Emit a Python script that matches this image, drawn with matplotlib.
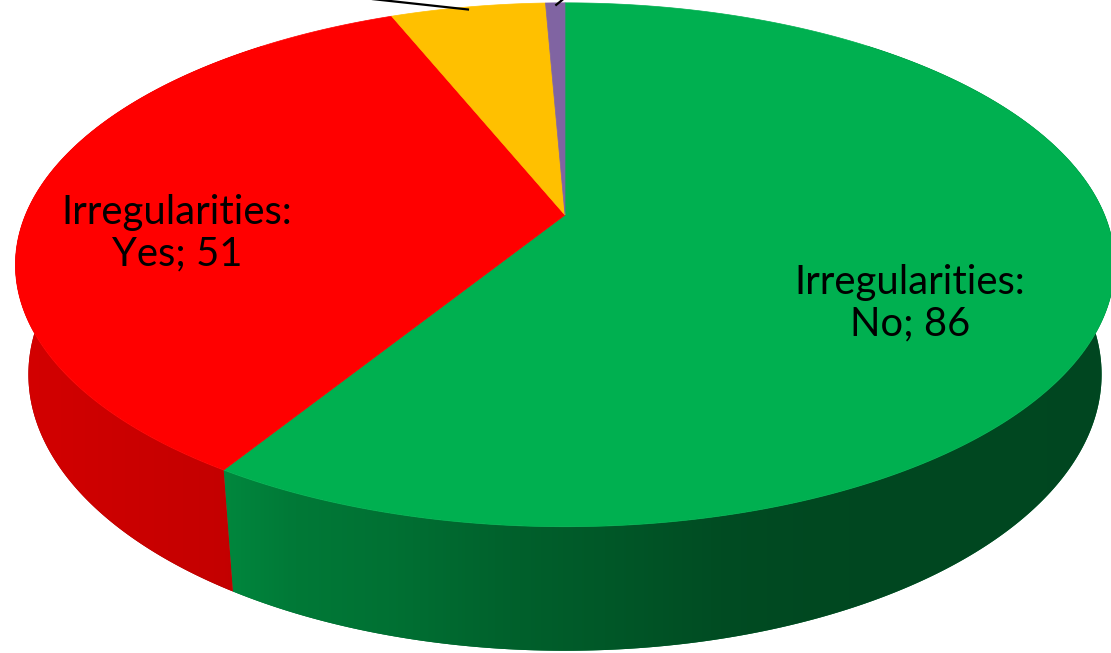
import numpy as np
import matplotlib
matplotlib.use("Agg")
import matplotlib.pyplot as plt
from matplotlib.patches import Polygon
from matplotlib.colors import to_rgb

# data
categories = ["Irregularities: No", "Irregularities: Yes", "Irregularities: Other", "Irregularities: Unknown"]
values = [86, 51, 8, 1]
colors = ["#00b050", "#ff0000", "#ffc000", "#8064a2"]
show_label = [True, True, False, False]

W, H = 1111, 653

# camera / projection of the 3D pie (unit radius disk)
elev = np.radians(27.9)
c, s = np.cos(elev), np.sin(elev)
D = 4.65
k = 2509.0
X0, Y0 = 565.0, 215.0
thick = 0.232


def proj(x, y, z):
    ry = y + D * c
    rz = z - D * s
    depth = ry * c - rz * s
    up = ry * s + rz * c
    return X0 + k * x / depth, Y0 - k * up / depth


def rim(theta, z=0.0, r=1.0):
    # theta clockwise from 12 o'clock (far side)
    return proj(r * np.sin(theta), r * np.cos(theta), z)


def side_factor(theta):
    nx = np.sin(theta)
    return np.interp(nx, [-1, -0.53, -0.42, -0.26, -0.08, 0.06, 0.24, 0.38, 1],
                     [0.84, 0.77, 0.69, 0.64, 0.55, 0.50, 0.43, 0.41, 0.40])


fig = plt.figure(figsize=(W / 100, H / 100), dpi=100)
ax = fig.add_axes([0, 0, 1, 1])
ax.set_xlim(0, W)
ax.set_ylim(H, 0)
ax.axis("off")

total = float(sum(values))
bounds = np.concatenate([[0], np.cumsum(values)]) / total * 2 * np.pi

# map screen column -> angle on the front rim, for shading of the side wall
front = np.linspace(np.radians(104), np.radians(256), 800)
front_x = np.array([rim(t)[0] for t in front])
cols = np.arange(W) + 0.5
col_theta = np.interp(cols, front_x[::-1], front[::-1])

# side walls (back parts end up hidden under the top faces)
lo, hi = np.radians(40), np.radians(320)
for i, v in enumerate(values):
    t0, t1 = max(bounds[i], lo), min(bounds[i + 1], hi)
    if t1 <= t0:
        continue
    ts = np.linspace(t0, t1, 300)
    top = [rim(t) for t in ts]
    bot = [rim(t, -thick) for t in ts[::-1]]
    base = np.array(to_rgb(colors[i]))
    # solid base under the gradient so no gap can show through
    poly = Polygon(top + bot, closed=True, facecolor=base * 0.6, edgecolor="none", zorder=0.5)
    ax.add_patch(poly)
    grad = np.clip(base[None, :] * side_factor(col_theta)[:, None], 0, 1)
    im = ax.imshow(grad[None, :, :], extent=(0, W, H, 0), aspect="auto",
                   interpolation="bilinear", zorder=1)
    im.set_clip_path(poly)

# top faces
for i, v in enumerate(values):
    ts = np.linspace(bounds[i], bounds[i + 1], 300)
    pts = [proj(0, 0, 0)] + [rim(t) for t in ts]
    ax.add_patch(Polygon(pts, closed=True, facecolor=colors[i], edgecolor=colors[i],
                         lw=0.5, zorder=2))

# labels: (radius, angular shift in degrees from slice middle)
label_pos = {0: (0.684, 12.7), 1: (0.713, -10.6)}
for i, v in enumerate(values):
    t0, t1 = bounds[i], bounds[i + 1]
    m = 0.5 * (t0 + t1)
    if show_label[i]:
        name, ans = categories[i].split(": ")
        r, shift = label_pos[i]
        x, y = rim(m + np.radians(shift), 0.0, r)
        ax.text(x, y, f"{name}:\n{ans}; {v}", ha="center", va="center", zorder=4,
                fontsize=28.8, family=["Lato", "DejaVu Sans"], linespacing=1.15, color="black")
    else:
        # leader lines toward labels outside the visible area
        x, y = rim(m, 0.0, 0.985)
        dx, dy = (-110, -12) if i == 2 else (11, -9)
        ax.plot([x, x + dx], [y, y + dy], color="black", lw=1.6, zorder=3,
                solid_capstyle="butt")

fig.savefig("out.png", dpi=100)
